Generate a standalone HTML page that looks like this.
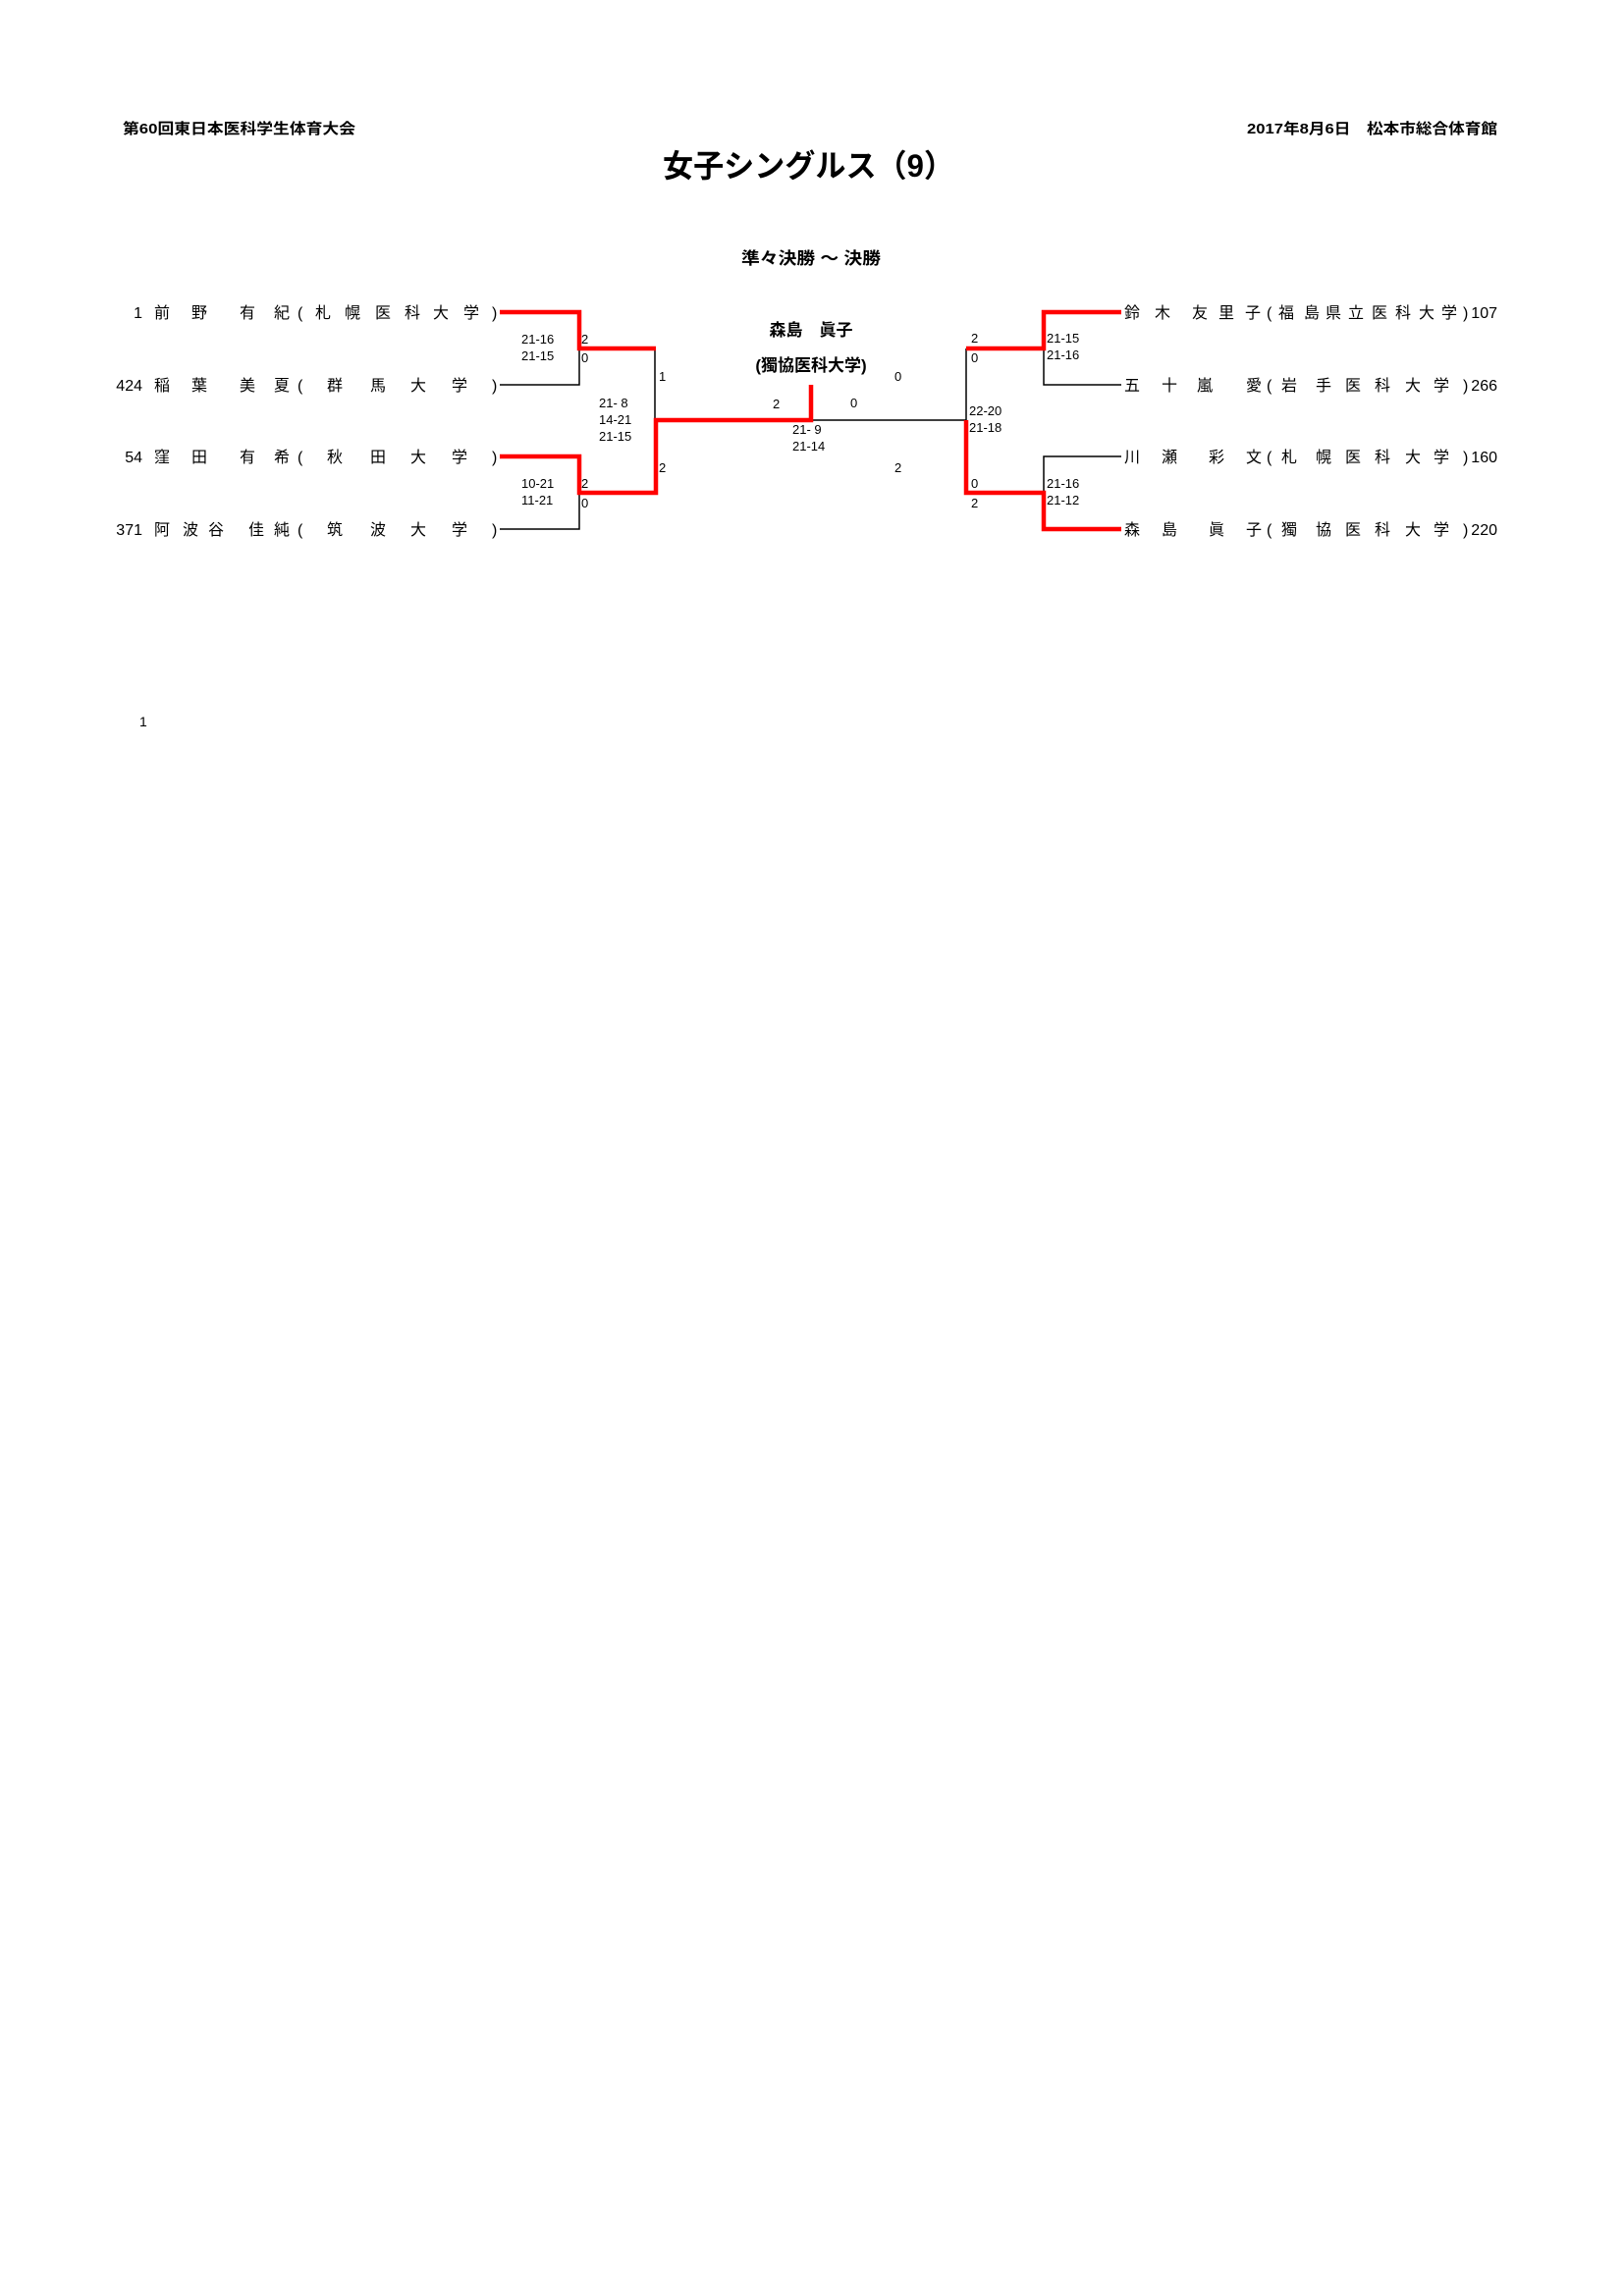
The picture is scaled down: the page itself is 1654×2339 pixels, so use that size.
<!DOCTYPE html>
<html><head><meta charset="utf-8"><style>
html,body{margin:0;padding:0;background:#fff}
svg{display:block}
text{font-family:"Liberation Sans","Noto Sans CJK JP",sans-serif;fill:#000}
.b{font-weight:bold}
.n{font-size:16px}
.s{font-size:13px}
</style></head><body>
<svg width="1654" height="2339" viewBox="0 0 1654 2339" xmlns="http://www.w3.org/2000/svg">
<text x="125" y="136" class="b" font-size="15" textLength="237" lengthAdjust="spacingAndGlyphs">第60回東日本医科学生体育大会</text>
<text x="1270" y="136" class="b" font-size="15" textLength="255" lengthAdjust="spacingAndGlyphs">2017年8月6日　松本市総合体育館</text>
<text x="675" y="180" class="b" font-size="32" textLength="297" lengthAdjust="spacingAndGlyphs">女子シングルス（9）</text>
<text x="755" y="269" class="b" font-size="17" textLength="142" lengthAdjust="spacingAndGlyphs">準々決勝 ～ 決勝</text>

<!-- lines -->
<g fill="none" stroke="#000" stroke-width="1.5">
<polyline points="509,392 590,392 590,355"/>
<polyline points="509,539 590,539 590,502"/>
<line x1="667" y1="355" x2="667" y2="428"/>
<line x1="826" y1="428" x2="984" y2="428"/>
<line x1="984" y1="355" x2="984" y2="428"/>
<polyline points="1142,392 1063,392 1063,355"/>
<polyline points="1142,465 1063,465 1063,502"/>
</g>
<g fill="none" stroke="#ff0000" stroke-width="4.5">
<polyline points="509,318 590,318 590,355 668,355"/>
<polyline points="509,465 590,465 590,502 668,502 668,428 826,428 826,392"/>
<polyline points="1142,318 1063,318 1063,355 984,355"/>
<polyline points="1142,539 1063,539 1063,502 984,502 984,428"/>
</g>

<!-- left names -->
<g class="n">
<text x="145" y="324" text-anchor="end">1</text>
<text x="157" y="324">前</text><text x="195" y="324">野</text><text x="244" y="324">有</text><text x="279" y="324">紀</text><text x="303" y="324">(</text>
<text x="321" y="324">札</text><text x="351" y="324">幌</text><text x="382" y="324">医</text><text x="412" y="324">科</text><text x="441" y="324">大</text><text x="472" y="324">学</text><text x="501" y="324">)</text>

<text x="145" y="398" text-anchor="end">424</text>
<text x="157" y="398">稲</text><text x="195" y="398">葉</text><text x="244" y="398">美</text><text x="279" y="398">夏</text><text x="303" y="398">(</text>
<text x="333" y="398">群</text><text x="377" y="398">馬</text><text x="418" y="398">大</text><text x="460" y="398">学</text><text x="501" y="398">)</text>

<text x="145" y="471" text-anchor="end">54</text>
<text x="157" y="471">窪</text><text x="195" y="471">田</text><text x="244" y="471">有</text><text x="279" y="471">希</text><text x="303" y="471">(</text>
<text x="333" y="471">秋</text><text x="377" y="471">田</text><text x="418" y="471">大</text><text x="460" y="471">学</text><text x="501" y="471">)</text>

<text x="145" y="545" text-anchor="end">371</text>
<text x="157" y="545">阿</text><text x="186" y="545">波</text><text x="212" y="545">谷</text><text x="253" y="545">佳</text><text x="279" y="545">純</text><text x="303" y="545">(</text>
<text x="333" y="545">筑</text><text x="377" y="545">波</text><text x="418" y="545">大</text><text x="460" y="545">学</text><text x="501" y="545">)</text>
</g>

<!-- right names -->
<g class="n">
<text x="1145" y="324">鈴</text><text x="1176" y="324">木</text><text x="1214" y="324">友</text><text x="1241" y="324">里</text><text x="1268" y="324">子</text><text x="1290" y="324">(</text>
<text x="1302" y="324">福</text><text x="1328" y="324">島</text><text x="1350" y="324">県</text><text x="1373" y="324">立</text><text x="1397" y="324">医</text><text x="1421" y="324">科</text><text x="1445" y="324">大</text><text x="1468" y="324">学</text><text x="1490" y="324">)</text><text x="1525" y="324" text-anchor="end">107</text>

<text x="1145" y="398">五</text><text x="1183" y="398">十</text><text x="1219" y="398">嵐</text><text x="1269" y="398">愛</text><text x="1290" y="398">(</text>
<text x="1305" y="398">岩</text><text x="1340" y="398">手</text><text x="1370" y="398">医</text><text x="1400" y="398">科</text><text x="1431" y="398">大</text><text x="1460" y="398">学</text><text x="1490" y="398">)</text><text x="1525" y="398" text-anchor="end">266</text>

<text x="1145" y="471">川</text><text x="1183" y="471">瀬</text><text x="1231" y="471">彩</text><text x="1269" y="471">文</text><text x="1290" y="471">(</text>
<text x="1305" y="471">札</text><text x="1340" y="471">幌</text><text x="1370" y="471">医</text><text x="1400" y="471">科</text><text x="1431" y="471">大</text><text x="1460" y="471">学</text><text x="1490" y="471">)</text><text x="1525" y="471" text-anchor="end">160</text>

<text x="1145" y="545">森</text><text x="1183" y="545">島</text><text x="1231" y="545">眞</text><text x="1269" y="545">子</text><text x="1290" y="545">(</text>
<text x="1305" y="545">獨</text><text x="1340" y="545">協</text><text x="1370" y="545">医</text><text x="1400" y="545">科</text><text x="1431" y="545">大</text><text x="1460" y="545">学</text><text x="1490" y="545">)</text><text x="1525" y="545" text-anchor="end">220</text>
</g>

<!-- scores -->
<g class="s">
<text x="531" y="350">21-16</text><text x="531" y="367">21-15</text>
<text x="592" y="350">2</text><text x="592" y="369">0</text>
<text x="671" y="388">1</text>
<text x="610" y="415">21- 8</text><text x="610" y="432">14-21</text><text x="610" y="449">21-15</text>
<text x="671" y="481">2</text>
<text x="531" y="497">10-21</text><text x="531" y="514">11-21</text>
<text x="592" y="497">2</text><text x="592" y="517">0</text>

<text x="787" y="416">2</text><text x="866" y="415">0</text><text x="911" y="388">0</text>
<text x="807" y="442">21- 9</text><text x="807" y="459">21-14</text>
<text x="911" y="481">2</text>

<text x="989" y="349">2</text><text x="989" y="369">0</text>
<text x="1066" y="349">21-15</text><text x="1066" y="366">21-16</text>
<text x="987" y="423">22-20</text><text x="987" y="440">21-18</text>
<text x="989" y="497">0</text><text x="989" y="517">2</text>
<text x="1066" y="497">21-16</text><text x="1066" y="514">21-12</text>
</g>

<text x="826" y="342" class="b" font-size="17" text-anchor="middle">森島　眞子</text>
<text x="826" y="378" class="b" font-size="17" text-anchor="middle">(獨協医科大学)</text>

<text x="142" y="740" font-size="14">1</text>
</svg>
</body></html>
